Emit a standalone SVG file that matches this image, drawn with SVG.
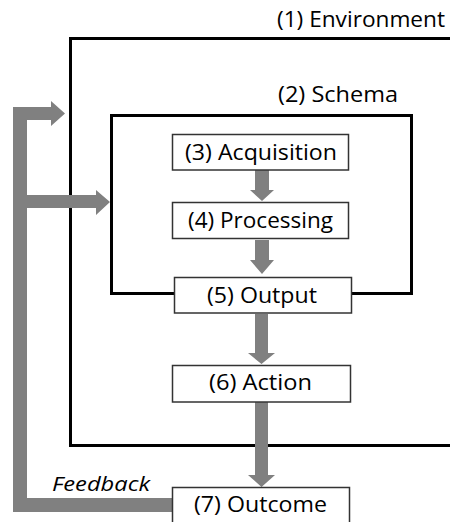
<svg xmlns="http://www.w3.org/2000/svg" width="450" height="522" viewBox="0 0 450 522">
<style>
.lbl{font-family:"Open Sans","DejaVu Sans",sans-serif;font-size:21px;fill:#000;}
.big{stroke:#000;stroke-width:3;fill:none;}
.box{stroke:#333;stroke-width:1.5;fill:#fff;}
.arr{fill:#808080;}
</style>
<rect width="450" height="522" fill="#fff"/>
<g id="environment">
<path class="big" d="M455 38.5 H70.5 V445.5 H455"/>
<text class="lbl" x="277" y="27" textLength="168" lengthAdjust="spacingAndGlyphs">(1) Environment</text>
</g>
<g id="schema">
<rect class="big" x="111.5" y="115.5" width="300" height="178"/>
<text class="lbl" x="278" y="102" textLength="120" lengthAdjust="spacingAndGlyphs">(2) Schema</text>
</g>
<g id="connectors">
<polygon class="arr" points="255,170 269,170 269,190 274,190 262,201 250,190 255,190"/>
<polygon class="arr" points="255,240 269,240 269,260 274,260 262,274 250,260 255,260"/>
<polygon class="arr" points="255,314 268,314 268,353 275,353 261.5,364 248,353 255,353"/>
<polygon class="arr" points="255,402 268,402 268,475 275,475 261.5,487 248,475 255,475"/>
<polygon class="arr" points="13,107 51,107 51,101 65,113.5 51,126 51,120 27,120 27,195 96,195 96,190 110,202 96,215 96,208 27,208 27,498 173,498 173,512 13,512"/>
<text x="52" y="491" style="font-family:'Open Sans','DejaVu Sans',sans-serif;font-size:20px;font-style:italic" textLength="98" lengthAdjust="spacingAndGlyphs">Feedback</text>
</g>
<g id="acquisition">
<rect class="box" x="172.5" y="134.5" width="176" height="35.5"/>
<text class="lbl" x="185" y="160" textLength="152" lengthAdjust="spacingAndGlyphs">(3) Acquisition</text>
</g>
<g id="processing">
<rect class="box" x="172.5" y="202.5" width="176" height="36"/>
<text class="lbl" x="188" y="228" textLength="145" lengthAdjust="spacingAndGlyphs">(4) Processing</text>
</g>
<g id="output">
<rect class="box" x="174.5" y="277.5" width="177" height="35.5"/>
<text class="lbl" x="207" y="303" textLength="110" lengthAdjust="spacingAndGlyphs">(5) Output</text>
</g>
<g id="action">
<rect class="box" x="172.5" y="365.5" width="178" height="36.5"/>
<text class="lbl" x="209" y="390" textLength="103" lengthAdjust="spacingAndGlyphs">(6) Action</text>
</g>
<g id="outcome">
<rect class="box" x="172.5" y="487.5" width="177" height="50"/>
<text class="lbl" x="194" y="512" textLength="133" lengthAdjust="spacingAndGlyphs">(7) Outcome</text>
</g>
</svg>
